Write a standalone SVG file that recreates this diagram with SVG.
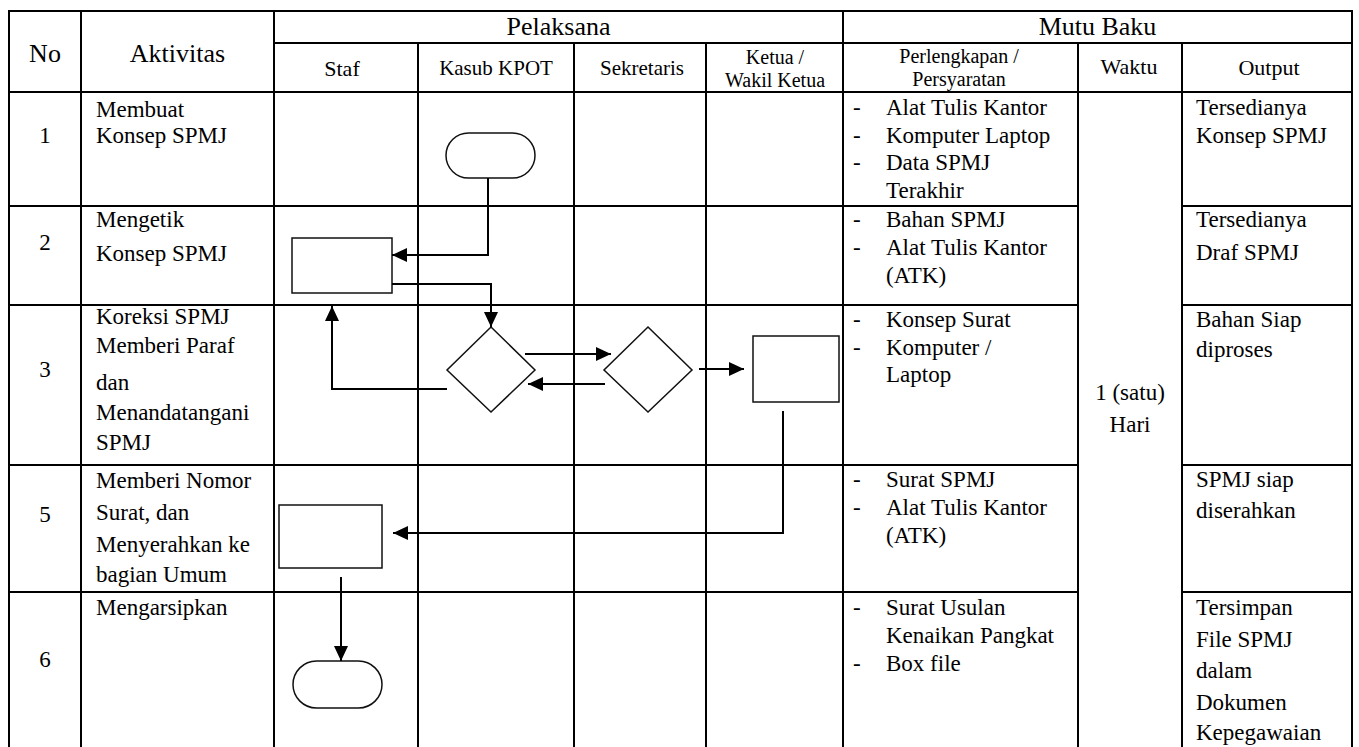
<svg xmlns="http://www.w3.org/2000/svg" width="1359" height="747" viewBox="0 0 1359 747" font-family="'Liberation Serif', 'Times New Roman', Tinos, 'DejaVu Serif', serif">
<defs>
<marker id="ah" markerUnits="userSpaceOnUse" markerWidth="15" markerHeight="14" refX="15" refY="7" orient="auto">
<path d="M0,0 L15,7 L0,14 z" fill="#000"/>
</marker>
<style>
.grid line{stroke:#000;stroke-width:2}
text{font-family:'Liberation Serif','Times New Roman',Tinos,'DejaVu Serif',serif;fill:#000}
.h{font-size:26px;text-anchor:middle}
.s{font-size:21px;text-anchor:middle}
.s3{font-size:22px;text-anchor:middle}
.s2{font-size:20px;text-anchor:middle}
.b{font-size:23px}
.c{text-anchor:middle}
.shape{fill:#fff;stroke:#111;stroke-width:1.5}
.conn path{fill:none;stroke:#000;stroke-width:2;marker-end:url(#ah)}
</style>
</defs>
<rect x="0" y="0" width="1359" height="747" fill="#fff"/>
<g class="grid">
<line x1="9" y1="11" x2="1352" y2="11"/>
<line x1="274" y1="43" x2="1352" y2="43"/>
<line x1="9" y1="92" x2="1352" y2="92"/>
<line x1="9" y1="206" x2="1078" y2="206"/><line x1="1182" y1="206" x2="1352" y2="206"/>
<line x1="9" y1="305" x2="1078" y2="305"/><line x1="1182" y1="305" x2="1352" y2="305"/>
<line x1="9" y1="465" x2="1078" y2="465"/><line x1="1182" y1="465" x2="1352" y2="465"/>
<line x1="9" y1="592" x2="1078" y2="592"/><line x1="1182" y1="592" x2="1352" y2="592"/>
<line x1="9" y1="10" x2="9" y2="747"/>
<line x1="81" y1="10" x2="81" y2="747"/>
<line x1="274" y1="10" x2="274" y2="747"/>
<line x1="418" y1="43" x2="418" y2="747"/>
<line x1="574" y1="43" x2="574" y2="747"/>
<line x1="706" y1="43" x2="706" y2="747"/>
<line x1="843" y1="10" x2="843" y2="747"/>
<line x1="1078" y1="43" x2="1078" y2="747"/>
<line x1="1182" y1="43" x2="1182" y2="747"/>
<line x1="1352" y1="10" x2="1352" y2="747"/>
</g>
<g id="headers">
<text class="h" x="45" y="62">No</text>
<text class="h" x="177.5" y="62">Aktivitas</text>
<text class="h" x="558.5" y="35">Pelaksana</text>
<text class="h" x="1097.5" y="35">Mutu Baku</text>
<text class="s3" x="342" y="76">Staf</text>
<text class="s" x="496" y="75">Kasub KPOT</text>
<text class="s" x="642" y="75">Sekretaris</text>
<text class="s2" x="775" y="64">Ketua /</text>
<text class="s2" x="775" y="87">Wakil Ketua</text>
<text class="s2" x="959" y="63">Perlengkapan /</text>
<text class="s2" x="959" y="86">Persyaratan</text>
<text class="s3" x="1129" y="74">Waktu</text>
<text class="s3" x="1269" y="75">Output</text>
</g>
<g id="numbers">
<text class="b c" x="45" y="143">1</text>
<text class="b c" x="45" y="250">2</text>
<text class="b c" x="45" y="377">3</text>
<text class="b c" x="45" y="522">5</text>
<text class="b c" x="45" y="667">6</text>
</g>
<g id="aktivitas">
<text class="b" x="96" y="117">Membuat</text>
<text class="b" x="96" y="143">Konsep SPMJ</text>
<text class="b" x="96" y="227">Mengetik</text>
<text class="b" x="96" y="261">Konsep SPMJ</text>
<text class="b" x="96" y="324">Koreksi SPMJ</text>
<text class="b" x="96" y="353">Memberi Paraf</text>
<text class="b" x="96" y="390">dan</text>
<text class="b" x="96" y="420">Menandatangani</text>
<text class="b" x="96" y="450">SPMJ</text>
<text class="b" x="96" y="488">Memberi Nomor</text>
<text class="b" x="96" y="520">Surat, dan</text>
<text class="b" x="96" y="552">Menyerahkan ke</text>
<text class="b" x="96" y="582">bagian Umum</text>
<text class="b" x="96" y="615">Mengarsipkan</text>
</g>
<g id="perlengkapan">
<text class="b" x="853" y="115">-</text><text class="b" x="886" y="115">Alat Tulis Kantor</text>
<text class="b" x="853" y="143">-</text><text class="b" x="886" y="143">Komputer Laptop</text>
<text class="b" x="853" y="170">-</text><text class="b" x="886" y="170">Data SPMJ</text>
<text class="b" x="886" y="198">Terakhir</text>
<text class="b" x="853" y="227">-</text><text class="b" x="886" y="227">Bahan SPMJ</text>
<text class="b" x="853" y="255">-</text><text class="b" x="886" y="255">Alat Tulis Kantor</text>
<text class="b" x="886" y="283">(ATK)</text>
<text class="b" x="853" y="327">-</text><text class="b" x="886" y="327">Konsep Surat</text>
<text class="b" x="853" y="355">-</text><text class="b" x="886" y="355">Komputer /</text>
<text class="b" x="886" y="382">Laptop</text>
<text class="b" x="853" y="487">-</text><text class="b" x="886" y="487">Surat SPMJ</text>
<text class="b" x="853" y="515">-</text><text class="b" x="886" y="515">Alat Tulis Kantor</text>
<text class="b" x="886" y="543">(ATK)</text>
<text class="b" x="853" y="615">-</text><text class="b" x="886" y="615">Surat Usulan</text>
<text class="b" x="886" y="643">Kenaikan Pangkat</text>
<text class="b" x="853" y="671">-</text><text class="b" x="886" y="671">Box file</text>
</g>
<g id="waktu">
<text class="b c" x="1130" y="400">1 (satu)</text>
<text class="b c" x="1130" y="432">Hari</text>
</g>
<g id="output">
<text class="b" x="1196" y="115">Tersedianya</text>
<text class="b" x="1196" y="143">Konsep SPMJ</text>
<text class="b" x="1196" y="227">Tersedianya</text>
<text class="b" x="1196" y="260">Draf SPMJ</text>
<text class="b" x="1196" y="327">Bahan Siap</text>
<text class="b" x="1196" y="357">diproses</text>
<text class="b" x="1196" y="487">SPMJ siap</text>
<text class="b" x="1196" y="518">diserahkan</text>
<text class="b" x="1196" y="615">Tersimpan</text>
<text class="b" x="1196" y="647">File SPMJ</text>
<text class="b" x="1196" y="678">dalam</text>
<text class="b" x="1196" y="710">Dokumen</text>
<text class="b" x="1196" y="740">Kepegawaian</text>
</g>
<g id="start"><rect class="shape" x="446" y="133" width="89" height="45" rx="22.5"/></g>
<g id="ketik"><rect class="shape" x="292" y="238" width="100" height="55"/></g>
<g id="koreksi"><polygon class="shape" points="491,327 535,370 491,412 447,370"/></g>
<g id="paraf"><polygon class="shape" points="648,327 692,370 648,412 604,370"/></g>
<g id="tandatangan"><rect class="shape" x="753" y="336" width="86" height="66"/></g>
<g id="nomor"><rect class="shape" x="279" y="505" width="103" height="63"/></g>
<g id="end"><rect class="shape" x="293" y="661" width="89" height="47" rx="23.5"/></g>
<g class="conn">
<path d="M488,178 V255 H392"/>
<path d="M392,284 H491 V327"/>
<path d="M447,389 H332 V306"/>
<path d="M525,354 H611"/>
<path d="M605,384 H528"/>
<path d="M699,369 H744"/>
<path d="M783,411 V533 H393"/>
<path d="M341,577 V661"/>
</g>
</svg>
